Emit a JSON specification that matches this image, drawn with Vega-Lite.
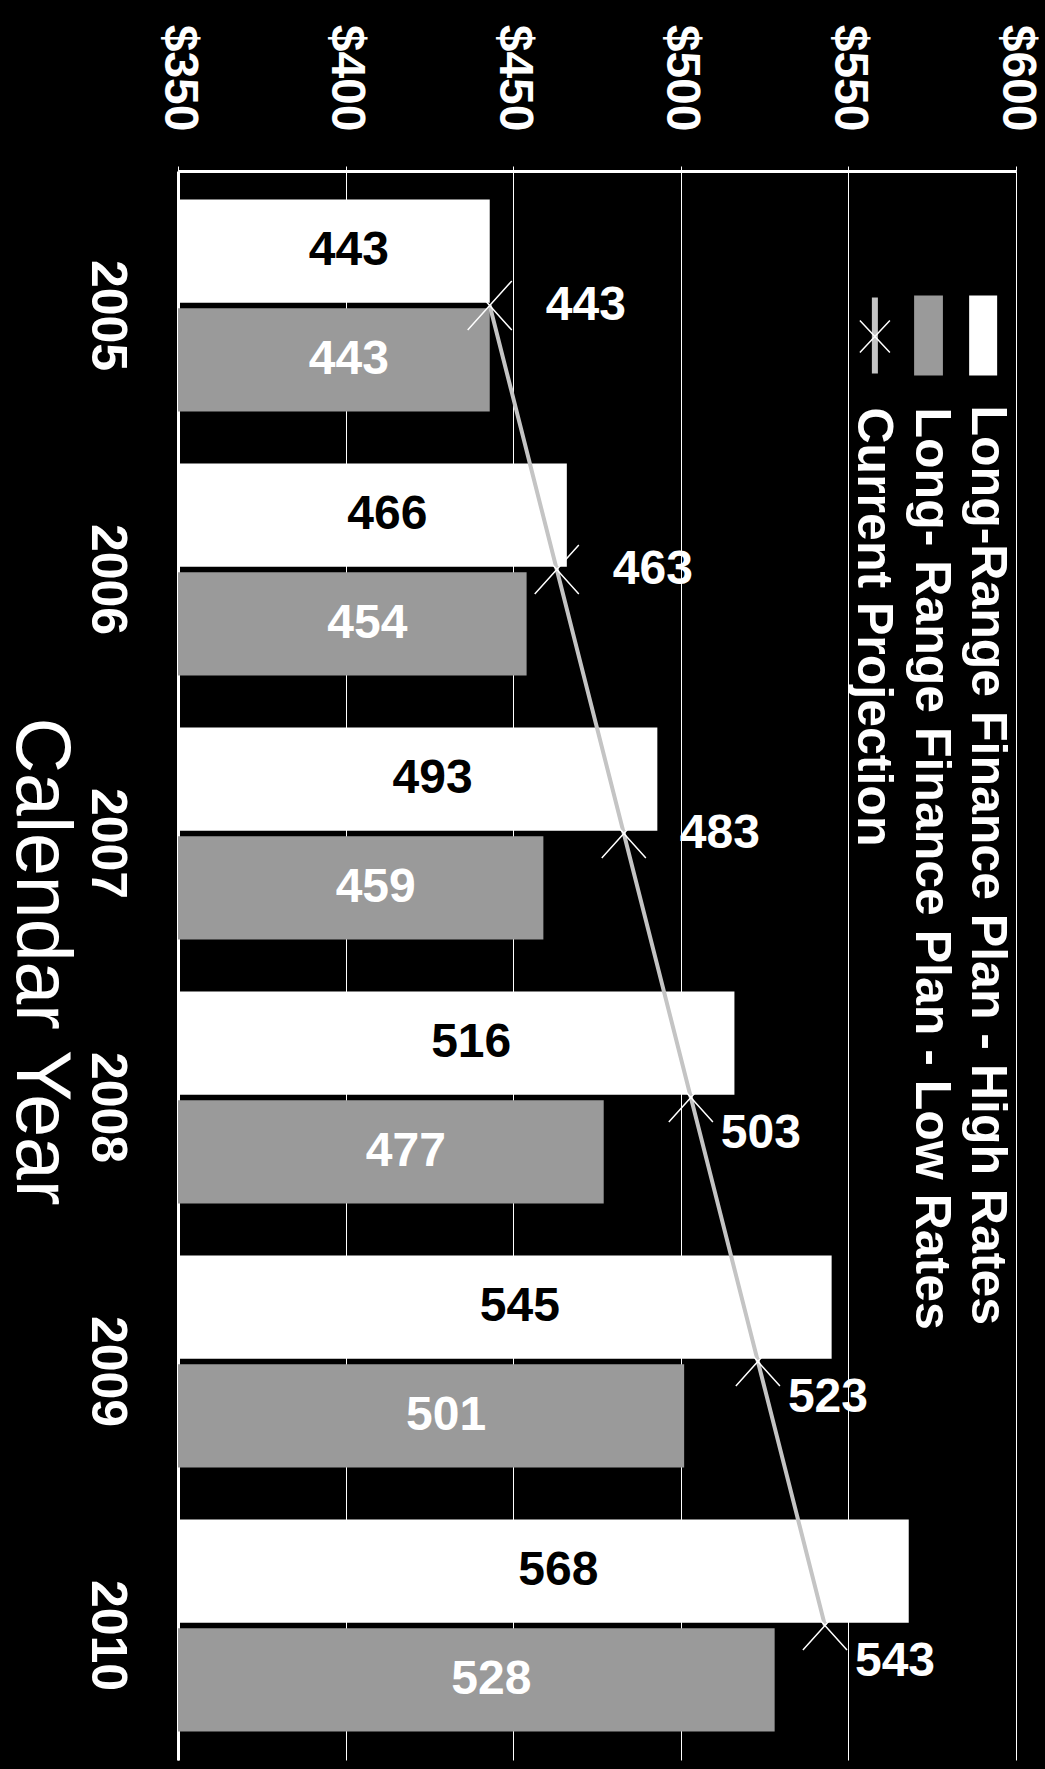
{
  "$schema": "https://vega.github.io/schema/vega-lite/v6.json",
  "width": 838,
  "height": 1589,
  "autosize": {"type": "none"},
  "padding": {"left": 178, "top": 171, "right": 29, "bottom": 9},
  "background": "black",
  "config": {"view": {"stroke": null}, "font": "Liberation Sans"},
  "datasets": {
    "bars": [
      {"year": "2005", "series": "High", "value": 443},
      {"year": "2005", "series": "Low", "value": 443},
      {"year": "2006", "series": "High", "value": 466},
      {"year": "2006", "series": "Low", "value": 454},
      {"year": "2007", "series": "High", "value": 493},
      {"year": "2007", "series": "Low", "value": 459},
      {"year": "2008", "series": "High", "value": 516},
      {"year": "2008", "series": "Low", "value": 477},
      {"year": "2009", "series": "High", "value": 545},
      {"year": "2009", "series": "Low", "value": 501},
      {"year": "2010", "series": "High", "value": 568},
      {"year": "2010", "series": "Low", "value": 528}
    ],
    "proj": [
      {"year": "2005", "value": 443},
      {"year": "2006", "value": 463},
      {"year": "2007", "value": 483},
      {"year": "2008", "value": 503},
      {"year": "2009", "value": 523},
      {"year": "2010", "value": 543}
    ],
    "legend": [
      {"key": "High", "label": "Long-Range Finance Plan - High Rates"},
      {"key": "Low", "label": "Long- Range Finance Plan - Low Rates"},
      {"key": "Proj", "label": "Current Projection"}
    ]
  },
  "layer": [
    {
      "layer": [
        {
          "data": {"name": "bars"},
          "mark": {"type": "bar", "opacity": 1},
          "encoding": {
            "y": {
              "field": "year", "type": "nominal",
              "scale": {"paddingInner": 0.197, "paddingOuter": 0.108},
              "axis": {
                "title": "Calendar Year", "titleAngle": 90, "titleX": -162, "titleY": 790,
                "titleAlign": "center", "titleBaseline": "alphabetic", "titleFontSize": 77,
                "titleFontWeight": "normal", "titleColor": "white",
                "labelAngle": 90, "labelAlign": "center", "labelBaseline": "top",
                "labelFontSize": 50, "labelFontWeight": "bold", "labelColor": "white",
                "labelPadding": 47, "labelOffset": 10, "ticks": false, "domainColor": "white", "domainWidth": 3,
                "grid": false
              }
            },
            "yOffset": {"field": "series", "type": "nominal", "sort": ["High", "Low"], "scale": {"paddingInner": 0.05}},
            "x": {
              "field": "value", "type": "quantitative",
              "scale": {"domain": [350, 600], "zero": false, "nice": false},
              "axis": {
                "orient": "top", "values": [350, 400, 450, 500, 550, 600],
                "labelExpr": "'$' + datum.value", "labelAngle": 90, "labelAlign": "right",
                "labelBaseline": "middle", "labelFontSize": 48, "labelFontWeight": "bold",
                "labelColor": "white", "labelPadding": 35, "labelFlush": false, "labelOverlap": false,
                "labelBound": false, "tickColor": "white", "tickSize": 5, "domainColor": "white",
                "domainWidth": 3, "grid": true, "gridColor": "white", "gridWidth": 1, "title": null
              }
            },
            "x2": {"datum": 350},
            "color": {
              "field": "series", "type": "nominal",
              "scale": {"domain": ["High", "Low"], "range": ["#ffffff", "#9a9a9a"]},
              "legend": null
            }
          }
        },
        {
          "data": {"name": "proj"},
          "mark": {"type": "line", "color": "#c4c4c4", "strokeWidth": 4},
          "encoding": {
            "y": {"field": "year", "type": "nominal"},
            "x": {"field": "value", "type": "quantitative"}
          }
        },
        {
          "data": {"name": "proj"},
          "mark": {"type": "point", "shape": "M-0.9,-1L0.9,1M-0.9,1L0.9,-1", "size": 2400, "filled": false, "color": "white", "strokeWidth": 1.5, "opacity": 1},
          "encoding": {
            "y": {"field": "year", "type": "nominal"},
            "x": {"field": "value", "type": "quantitative"}
          }
        },
        {
          "data": {"name": "proj"},
          "transform": [{"filter": "toNumber(datum.year) <= 2007"}],
          "mark": {"type": "text", "align": "left", "baseline": "middle", "dx": 56, "fontSize": 48, "fontWeight": "bold", "color": "white"},
          "encoding": {
            "y": {"field": "year", "type": "nominal"},
            "x": {"field": "value", "type": "quantitative"},
            "text": {"field": "value"}
          }
        },
        {
          "data": {"name": "proj"},
          "transform": [{"filter": "toNumber(datum.year) >= 2008"}],
          "mark": {"type": "text", "align": "left", "baseline": "middle", "dx": 30, "dy": 37, "fontSize": 48, "fontWeight": "bold", "color": "white"},
          "encoding": {
            "y": {"field": "year", "type": "nominal"},
            "x": {"field": "value", "type": "quantitative"},
            "text": {"field": "value"}
          }
        },
        {
          "data": {"name": "legend"},
          "transform": [{"filter": "datum.key === 'High'"}],
          "mark": {"type": "point", "shape": "M-0.35,-0.25H0.35V1.75H-0.35Z", "size": 6400, "filled": true, "color": "#ffffff", "opacity": 1, "strokeWidth": 0},
          "encoding": {
            "x": {"datum": 590.2, "type": "quantitative"},
            "y": {"datum": "2005", "type": "nominal"}
          }
        },
        {
          "data": {"name": "legend"},
          "transform": [{"filter": "datum.key === 'Low'"}],
          "mark": {"type": "point", "shape": "M-0.36,-0.25H0.36V1.75H-0.36Z", "size": 6400, "filled": true, "color": "#9a9a9a", "opacity": 1, "strokeWidth": 0},
          "encoding": {
            "x": {"datum": 573.9, "type": "quantitative"},
            "y": {"datum": "2005", "type": "nominal"}
          }
        },
        {
          "data": {"name": "legend"},
          "transform": [{"filter": "datum.key === 'Proj'"}],
          "mark": {"type": "point", "shape": "M0,-0.2L0,1.7", "size": 6400, "filled": false, "color": "#c4c4c4", "opacity": 1, "strokeWidth": 6},
          "encoding": {
            "x": {"datum": 557.9, "type": "quantitative"},
            "y": {"datum": "2005", "type": "nominal"}
          }
        },
        {
          "data": {"name": "legend"},
          "transform": [{"filter": "datum.key === 'Proj'"}],
          "mark": {"type": "point", "shape": "M-0.375,0.375L0.375,1.175M-0.375,1.175L0.375,0.375", "size": 6400, "filled": false, "color": "white", "opacity": 1, "strokeWidth": 1.5},
          "encoding": {
            "x": {"datum": 557.9, "type": "quantitative"},
            "y": {"datum": "2005", "type": "nominal"}
          }
        },
        {
          "data": {"name": "legend"},
          "transform": [{"filter": "datum.key === 'High'"}],
          "mark": {"type": "text", "angle": 90, "align": "left", "baseline": "alphabetic", "dx": 100, "fontSize": 50, "fontWeight": "bold", "color": "white"},
          "encoding": {
            "x": {"datum": 586.9, "type": "quantitative"},
            "y": {"datum": "2005", "type": "nominal"},
            "text": {"field": "label"}
          }
        },
        {
          "data": {"name": "legend"},
          "transform": [{"filter": "datum.key === 'Low'"}],
          "mark": {"type": "text", "angle": 90, "align": "left", "baseline": "alphabetic", "dx": 102, "fontSize": 50, "fontWeight": "bold", "color": "white"},
          "encoding": {
            "x": {"datum": 570.2, "type": "quantitative"},
            "y": {"datum": "2005", "type": "nominal"},
            "text": {"field": "label"}
          }
        },
        {
          "data": {"name": "legend"},
          "transform": [{"filter": "datum.key === 'Proj'"}],
          "mark": {"type": "text", "angle": 90, "align": "left", "baseline": "alphabetic", "dx": 102, "fontSize": 50, "fontWeight": "bold", "color": "white"},
          "encoding": {
            "x": {"datum": 552.9, "type": "quantitative"},
            "y": {"datum": "2005", "type": "nominal"},
            "text": {"field": "label"}
          }
        }
      ]
    },
    {
      "data": {"name": "bars"},
      "mark": {"type": "text", "fontSize": 48, "fontWeight": "bold", "dx": 15, "baseline": "middle", "align": "center"},
      "encoding": {
        "y": {"field": "year", "type": "nominal"},
        "yOffset": {"field": "series", "type": "nominal", "sort": ["High", "Low"]},
        "x": {"field": "value", "type": "quantitative", "scale": {"domain": [350, 850], "zero": false, "nice": false}, "axis": null},
        "text": {"field": "value"},
        "color": {"condition": {"test": "datum.series === 'Low'", "value": "white"}, "value": "black"}
      }
    }
  ],
  "resolve": {"scale": {"x": "independent"}}
}
